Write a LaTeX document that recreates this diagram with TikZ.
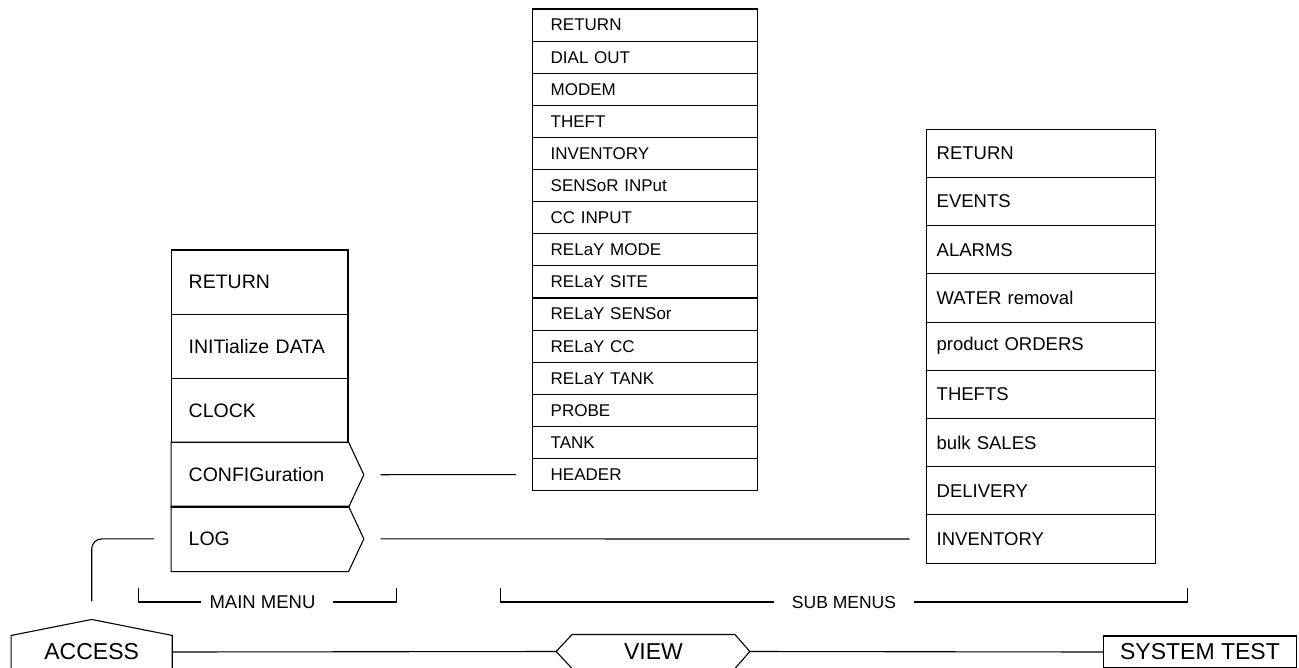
\documentclass[tikz,border=0pt]{standalone}
\usepackage{fontspec}
\setmainfont{Liberation Sans}
\usetikzlibrary{calc}
\begin{document}
\begin{tikzpicture}[x=1pt,y=-1pt,line width=1.1pt,
  box/.style={rectangle, inner ysep=0pt, align=left, anchor=center},
  mainrow/.style={box, minimum width=176.3pt, minimum height=64.2pt, text width=142.3pt, inner xsep=17pt, font=\fontsize{19.5}{22}\selectfont},
  midrow/.style={box, draw, minimum width=224.6pt, minimum height=32.11pt, text width=188.6pt, inner xsep=18pt, font=\fontsize{17}{19}\selectfont},
  rightrow/.style={box, draw, minimum width=229pt, minimum height=48.2pt, text width=209pt, inner xsep=10pt, font=\fontsize{18.5}{21}\selectfont},
  bottomlabel/.style={inner sep=0pt, font=\fontsize{23}{26}\selectfont},
  bracketlabel/.style={inner sep=0pt, font=\fontsize{17.5}{20}\selectfont},
  conn/.style={draw, line width=1.1pt}]
\useasboundingbox (0,0) rectangle (1299,667);
\clip (0,0) rectangle (1299,667);

% main menu
\node[mainrow, draw] (mret) at (259.85,282.1) {RETURN};
\node[mainrow, draw] (minit) at (259.85,346.3) {INITialize DATA};
\node[mainrow, draw] (mclock) at (259.85,410.5) {CLOCK};
\node[mainrow] (cfg) at (259.85,474.7) {CONFIGuration};
\node[mainrow] (log) at (259.85,538.9) {LOG};
\foreach \n in {cfg,log}{
  \draw (\n.north west) -- (\n.north east) -- ($(\n.east)+(15.3,0)$) -- (\n.south east) -- (\n.south west) -- cycle;
}

% middle sub menu
\foreach \t [count=\i] in {RETURN,DIAL OUT,MODEM,THEFT,INVENTORY,SENSoR INPut,CC INPUT,RELaY MODE,RELaY SITE,RELaY SENSor,RELaY CC,RELaY TANK,PROBE,TANK,HEADER}{
  \node[midrow] (m\i) at (645,{25.06+(\i-1)*32.11}) {\t};
}

% right sub menu
\foreach \t [count=\i] in {RETURN,EVENTS,ALARMS,WATER removal,product ORDERS,THEFTS,bulk SALES,DELIVERY,INVENTORY}{
  \node[rightrow] (r\i) at (1041.2,{153.4+(\i-1)*48.2}) {\t};
}

% connectors from main menu to sub menus
\draw[conn] ($(cfg.east)+(32,0)$) -- ($(m15.west)+(-16,0)$);
\draw[conn] ($(log.east)+(32,0)$) -- ($(r9.west)+(-16.5,0)$);

% brackets
\node[bracketlabel, font=\fontsize{18.5}{20}\selectfont] (mm) at (262.5,602) {MAIN MENU};
\draw (138.3,588) |- ($(mm.west)+(-8,0)$);
\draw ($(mm.east)+(17,0)$) -| (396.7,588);
\node[bracketlabel, minimum width=138pt] (sm) at (844,602) {SUB MENUS};
\draw (500.7,588) |- (sm.west);
\draw (sm.east) -| (1187.3,588);

% bottom bar
\node[bottomlabel, minimum width=160pt, minimum height=32pt] (access) at (91.7,652) {ACCESS};
\draw ($(access.south west)+(0,15)$) -- (access.north west) -- ($(access.north)+(0,-16)$) -- (access.north east) -- ($(access.south east)+(0,15)$);

\node[bottomlabel, minimum width=161.6pt, minimum height=33pt] (view) at (653.5,651.5) {VIEW};
\draw (view.north west) -- (view.north east) -- ($(view.east)+(15,0)$) -- (view.south east) -- (view.south west) -- ($(view.west)+(-16,0)$) -- cycle;

\node[bottomlabel, draw, minimum width=193.4pt, minimum height=32pt] (sys) at (1200,652) {SYSTEM TEST};

\draw[conn] (access.east) -- ($(view.west)+(-16,0)$);
\draw[conn] ($(view.east)+(15,0)$) -- (sys.west);
\draw[conn, rounded corners=10pt] ($(access.north)+(0,-34)$) |- ($(log.west)+(-17,0)$);
\end{tikzpicture}
\end{document}
